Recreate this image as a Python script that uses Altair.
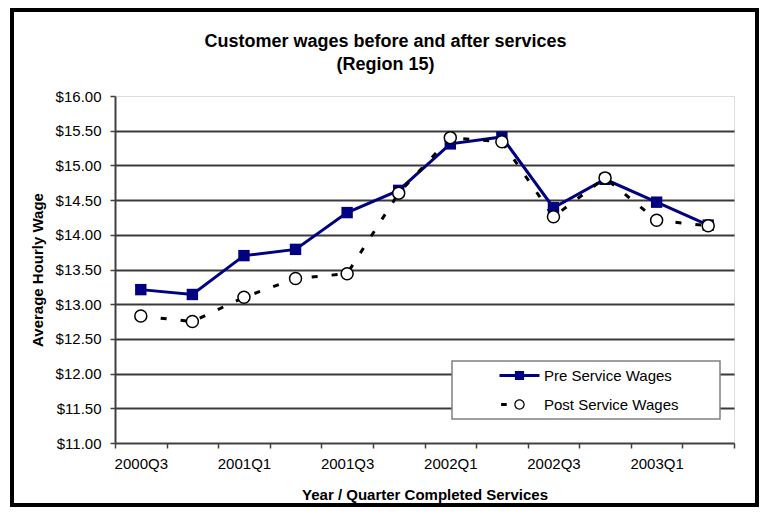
import altair as alt
import pandas as pd

quarters = ["2000Q3", "2000Q4", "2001Q1", "2001Q2", "2001Q3", "2001Q4",
            "2002Q1", "2002Q2", "2002Q3", "2002Q4", "2003Q1", "2003Q2"]
pre_wages = [13.21, 13.14, 13.70, 13.79, 14.32, 14.64, 15.31, 15.41, 14.39, 14.80, 14.47, 14.14]
post_wages = [12.83, 12.75, 13.10, 13.37, 13.44, 14.60, 15.40, 15.34, 14.26, 14.82, 14.21, 14.13]
series_names = ["Pre Service Wages", "Post Service Wages"]
y_ticks = [11.0, 11.5, 12.0, 12.5, 13.0, 13.5, 14.0, 14.5, 15.0, 15.5, 16.0]

rows = []
for q, v in zip(quarters, pre_wages):
    rows.append({"quarter": q, "series": series_names[0], "wage": v})
for q, v in zip(quarters, post_wages):
    rows.append({"quarter": q, "series": series_names[1], "wage": v})
df = pd.DataFrame(rows)

FONT = "Liberation Sans"
W, H = 619, 347

x_enc = alt.X(
    "quarter:N", sort=quarters, bandPosition=0.5,
    scale=alt.Scale(type="band", paddingInner=0, paddingOuter=0),
    axis=alt.Axis(
        title="Year / Quarter Completed Services", tickBand="extent",
        labelExpr="test(/Q[13]$/, datum.value) ? datum.label : ''",
        labelAngle=0, labelFont=FONT, labelFontSize=15, labelColor="black",
        labelPadding=8, tickSize=5, tickColor="#404040", tickWidth=1.5,
        domainColor="#404040", domainWidth=2, grid=False,
        titleFont=FONT, titleFontSize=15, titleFontWeight="bold", titleColor="black",
        titleX=W / 2, titleY=51, titleBaseline="middle", labelOverlap=False,
    ),
)
y_enc = alt.Y(
    "wage:Q", scale=alt.Scale(domain=[11, 16], nice=False, zero=False),
    axis=alt.Axis(
        title="Average Hourly Wage", values=y_ticks, format="$.2f",
        labelFont=FONT, labelFontSize=15, labelColor="black", labelPadding=9,
        tickSize=5, tickColor="#404040", tickWidth=1.5,
        domainColor="#404040", domainWidth=2,
        grid=True, gridWidth=1.8,
        gridColor={"condition": {"test": "datum.value === 16 || datum.value === 11",
                                 "value": "transparent"}, "value": "#3a3a3a"},
        titleFont=FONT, titleFontSize=15, titleFontWeight="bold", titleColor="black",
        titleX=-78, titleY=H / 2, titleBaseline="middle", titleAngle=270,
    ),
)

base = alt.Chart(df)

one = alt.Data(values=[{"k": 1}])
frame = alt.Chart(one).mark_rect(fill="white", fillOpacity=0, stroke="black", strokeWidth=4).encode(
    x=alt.value(-103), x2=alt.value(642), y=alt.value(-86), y2=alt.value(409)
)
legend_box = alt.Chart(one).mark_rect(fill="white", stroke="#808080", strokeWidth=1.5).encode(
    x=alt.value(337), x2=alt.value(605), y=alt.value(265), y2=alt.value(323)
)

pre_line = base.transform_filter(alt.datum.series == series_names[0]).mark_line(
    color="#000080", strokeWidth=3
).encode(x=x_enc, y=y_enc)
post_line = base.transform_filter(alt.datum.series == series_names[1]).mark_line(
    color="black", strokeWidth=3, strokeDash=[6, 14]
).encode(x=x_enc, y=y_enc)
pre_pts = base.transform_filter(alt.datum.series == series_names[0]).mark_point(
    shape="square", filled=True, color="#000080", size=130, opacity=1
).encode(x=x_enc, y=y_enc)
post_pts = base.transform_filter(alt.datum.series == series_names[1]).mark_point(
    shape="circle", filled=True, fill="white", stroke="black", strokeWidth=1.5, size=144, opacity=1
).encode(x=x_enc, y=y_enc)

pre_sym = "M-5,-0.35H5V0.35H-5Z M-1.15,-1.15H1.15V1.15H-1.15Z"
post_sym = ("M-4.6,-0.38H-3.2V0.38H-4.6Z "
            "M-1.3,0A1.3,1.3,0,1,1,1.3,0A1.3,1.3,0,1,1,-1.3,0Z "
            "M-1.0,0A1.0,1.0,0,1,0,1.0,0A1.0,1.0,0,1,0,-1.0,0Z")

leg = alt.Legend(orient="none", legendX=397, legendY=272, title=None,
                 symbolSize=64, symbolStrokeWidth=0,
                 labelFont=FONT, labelFontSize=15, labelColor="black",
                 labelOffset=17, rowPadding=13, padding=0)

legend_layer = base.transform_filter("false").mark_point(filled=True, size=64, opacity=1).encode(
    x=x_enc, y=y_enc,
    shape=alt.Shape("series:N", scale=alt.Scale(domain=series_names, range=[pre_sym, post_sym]),
                    legend=leg),
    color=alt.Color("series:N", scale=alt.Scale(domain=series_names, range=["#000080", "black"]),
                    legend=leg),
)

chart = alt.layer(
    frame, legend_box, pre_line, post_line, pre_pts, post_pts, legend_layer
).properties(
    width=W, height=H,
    title=alt.TitleParams(
        text=["Customer wages before and after services", "(Region 15)"],
        font=FONT, fontSize=18, fontWeight="bold", color="black",
        anchor="middle", dx=-39, dy=80, lineHeight=23, offset=14,
    ),
    autosize=alt.AutoSizeParams(type="none"),
    padding={"left": 107, "top": 88, "right": 25, "bottom": 65},
).configure_view(
    stroke="#808080", strokeWidth=2, fill="white"
).configure(background="white")

chart.save("out.html", embed_options={"renderer": "svg", "actions": False})
